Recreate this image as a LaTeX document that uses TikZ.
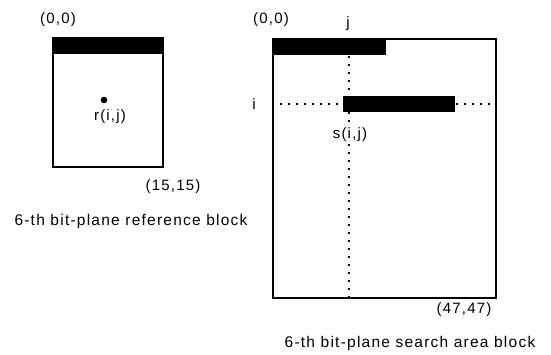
\documentclass[tikz,border=0pt]{standalone}
\usepackage{fontspec}
\setmainfont{Liberation Sans}[LetterSpace=8]
\begin{document}
\begin{tikzpicture}[x=1pt,y=-1pt,
  lbl/.style={font=\fontsize{15}{17}\selectfont, inner sep=0pt},
  captext/.style={font=\fontsize{15.5}{17}\selectfont, inner sep=0pt},
  frame/.style={draw, line width=1.2pt},
  bar/.style={fill=black},
  dots/.style={line width=1.5pt, dash pattern=on 1.5pt off 6.5pt}]
\useasboundingbox[fill=white] (0,0) rectangle (551,354);
% reference block
\coordinate (rtl) at (53,38);
\coordinate (rbr) at (163,167);
\draw[frame] (rtl) rectangle (rbr);
\fill[bar] (rtl) rectangle (163,54);
\fill (104,100) circle (3.3pt);
\node[lbl] (rij) at (110,117) {r(i,j)};
\node[lbl] (r00) at (58,20) {(0,0)};
\node[lbl] (r15) at (173,187) {(15,15)};
\node[captext] (rcap) at (131,221) {6-th bit-plane reference block};
% search area block
\coordinate (stl) at (273,39);
\coordinate (sbr) at (496,298);
\coordinate (vtop) at (349,56);
\coordinate (vbot) at (349,298);
\coordinate (hl) at (280,104);
\coordinate (hr) at (496,104);
\draw[dots] (vtop) -- (vbot);
\draw[dots] (hl) -- (hr);
\draw[frame] (stl) rectangle (sbr);
\fill[bar] (stl) rectangle (386,55);
\fill[bar] (343,96) rectangle (455,112);
\node[lbl, fill=white, inner sep=1pt] (sij) at (350,135) {s(i,j)};
\node[lbl] (s00) at (271,20) {(0,0)};
\node[lbl] (jl) at (348,24) {j};
\node[lbl] (il) at (254,104) {i};
\node[lbl] (s47) at (464,310) {(47,47)};
\node[captext] (scap) at (410,343) {6-th bit-plane search area block};
\end{tikzpicture}
\end{document}
